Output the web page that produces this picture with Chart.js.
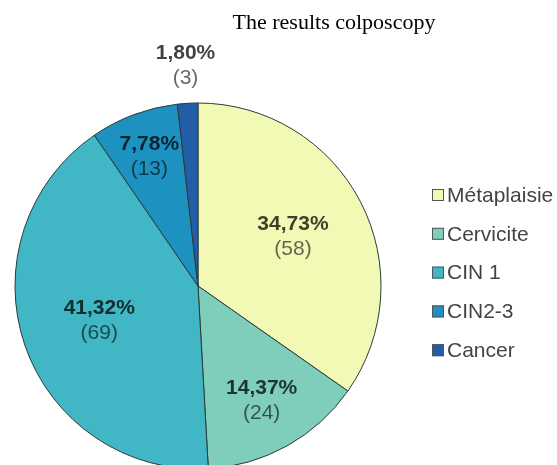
<!DOCTYPE html>
<html>
<head>
<meta charset="utf-8">
<script src="https://cdn.jsdelivr.net/npm/chart.js@4.4.0/dist/chart.umd.min.js"></script>
<style>
  html, body { margin: 0; padding: 0; background: #fff; overflow: hidden; }
  #wrap { width: 557px; height: 465px; position: relative; }
</style>
</head>
<body>
<div id="wrap"><canvas id="chart"></canvas></div>
<script>
// Colposcopy results (counts)
const categories = ["Métaplaisie", "Cervicite", "CIN 1", "CIN2-3", "Cancer"];
const counts = [58, 24, 69, 13, 3];
const sliceColors = ["#f1f9b4", "#7fcdbb", "#41b6c4", "#1d91c0", "#225ea8"];
const chartTitle = "The results colposcopy";

const total = counts.reduce((a, b) => a + b, 0);
const pctText = v => (v / total * 100).toFixed(2).replace(".", ",") + "%";

// where each slice label sits, as a fraction of the radius
const labelRadius = [0.585, 0.715, 0.57, 0.76, 1.21];

// slice labels: bold percent + count below
const sliceLabels = {
  id: "sliceLabels",
  afterDatasetsDraw(chart) {
    const ctx = chart.ctx;
    const meta = chart.getDatasetMeta(0);
    ctx.save();
    ctx.textAlign = "center";
    ctx.textBaseline = "middle";
    meta.data.forEach((arc, i) => {
      const p = arc.getProps(["x", "y", "startAngle", "endAngle", "outerRadius"], true);
      const mid = (p.startAngle + p.endAngle) / 2;
      const r = p.outerRadius * labelRadius[i];
      const x = p.x + Math.cos(mid) * r;
      const y = p.y + Math.sin(mid) * r;
      ctx.fillStyle = "rgba(0,0,0,0.75)";
      ctx.font = "bold 21px 'Liberation Sans', Arial, sans-serif";
      ctx.fillText(pctText(counts[i]), x, y - 12);
      ctx.fillStyle = "rgba(0,0,0,0.6)";
      ctx.font = "21px 'Liberation Sans', Arial, sans-serif";
      ctx.fillText("(" + counts[i] + ")", x, y + 13);
    });
    ctx.restore();
  }
};

// title and legend drawn at fixed spots like the original figure
const sideLegend = {
  id: "sideLegend",
  afterDraw(chart) {
    const ctx = chart.ctx;
    ctx.save();
    ctx.fillStyle = "#000";
    ctx.font = "22px 'Liberation Serif', 'Times New Roman', serif";
    ctx.textAlign = "center";
    ctx.textBaseline = "middle";
    ctx.fillText(chartTitle, 334, 23);

    ctx.textAlign = "left";
    ctx.font = "21px 'Liberation Sans', Arial, sans-serif";
    chart.data.labels.forEach((lbl, i) => {
      const y = 195 + i * 38.8;
      ctx.fillStyle = sliceColors[i];
      ctx.fillRect(432, y - 6, 12, 12);
      ctx.strokeStyle = "#555";
      ctx.lineWidth = 1;
      ctx.strokeRect(432.5, y - 5.5, 11, 11);
      ctx.fillStyle = "#444";
      ctx.fillText(lbl, 447, y + 1);
    });
    ctx.restore();
  }
};

new Chart(document.getElementById("chart"), {
  type: "pie",
  data: {
    labels: categories,
    datasets: [{
      data: counts,
      backgroundColor: sliceColors,
      borderColor: "#2b3a3a",
      borderWidth: 1,
      radius: 183,
      clip: false
    }]
  },
  options: {
    responsive: true,
    maintainAspectRatio: false,
    animation: false,
    layout: { padding: { left: 0, right: 161, top: 107, bottom: 0 } },
    plugins: {
      legend: { display: false },
      tooltip: { enabled: false }
    }
  },
  plugins: [sliceLabels, sideLegend]
});
</script>
</body>
</html>
